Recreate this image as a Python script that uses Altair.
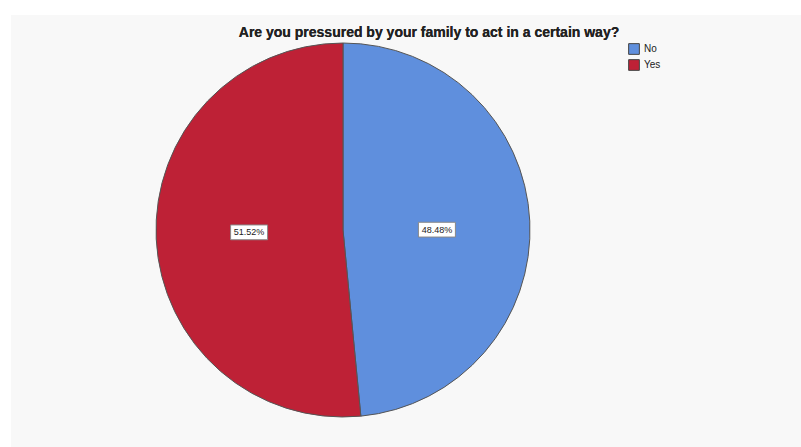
import altair as alt
import pandas as pd

categories = ["No", "Yes"]
percents = [48.48, 51.52]
labels = ["48.48%", "51.52%"]
order = [0, 1]
colors = ["#5f8fdd", "#be2136"]

title_text = "Are you pressured by your family to act in a certain way?"

df = pd.DataFrame({"answer": categories, "value": percents, "label": labels, "ord": order})

CX, CY, R, LR = 332, 215, 187, 94

color = alt.Color(
    "answer:N",
    scale=alt.Scale(domain=categories, range=colors),
    legend=alt.Legend(
        title=None, orient="none", legendX=617, legendY=26,
        symbolType="square", symbolSize=115, symbolStrokeColor="#444",
        symbolStrokeWidth=1, labelFontSize=10, labelFont="Liberation Sans",
        rowPadding=0, labelColor="#222", clipHeight=16,
    ),
)

pie = alt.Chart(df).mark_arc(outerRadius=R, stroke="#555555", strokeWidth=1).encode(
    theta=alt.Theta("value:Q", stack=True),
    color=color,
    order=alt.Order("ord:Q"),
    x=alt.value(CX),
    y=alt.value(CY),
)

lab_base = alt.Chart(df).transform_window(
    cum="sum(value)", sort=[alt.SortField("ord")], frame=[None, 0]
).transform_joinaggregate(
    total="sum(value)"
).transform_calculate(
    mid="(datum.cum - datum.value/2) / datum.total * 2 * PI",
).transform_calculate(
    lx=f"{CX} + {LR} * sin(datum.mid)",
    ly=f"{CY + 1} - {LR} * cos(datum.mid) * 0.3",
).encode(
    x=alt.X("lx:Q", scale=None, axis=None),
    y=alt.Y("ly:Q", scale=None, axis=None),
)

boxes = lab_base.mark_point(
    shape="M-1,-0.4H1V0.4H-1Z", size=1369, filled=True,
    fill="white", stroke="#888888", strokeWidth=1, opacity=1,
)

texts = lab_base.mark_text(fontSize=9, font="Liberation Sans", color="#222").encode(
    text="label:N"
)

title = alt.Chart(df).mark_text(
    text=title_text, fontSize=14, fontWeight="bold", font="Liberation Sans",
    color="#222222",
).encode(x=alt.value(418), y=alt.value(18))

chart = alt.layer(pie, boxes, texts, title).properties(
    width=790, height=432, autosize="none",
    padding={"left": 11, "top": 15, "right": 0, "bottom": 0},
    background="white",
).configure_view(fill="#f8f8f8", strokeWidth=0)

chart.save("out.html", embed_options={"renderer": "svg", "actions": False})
